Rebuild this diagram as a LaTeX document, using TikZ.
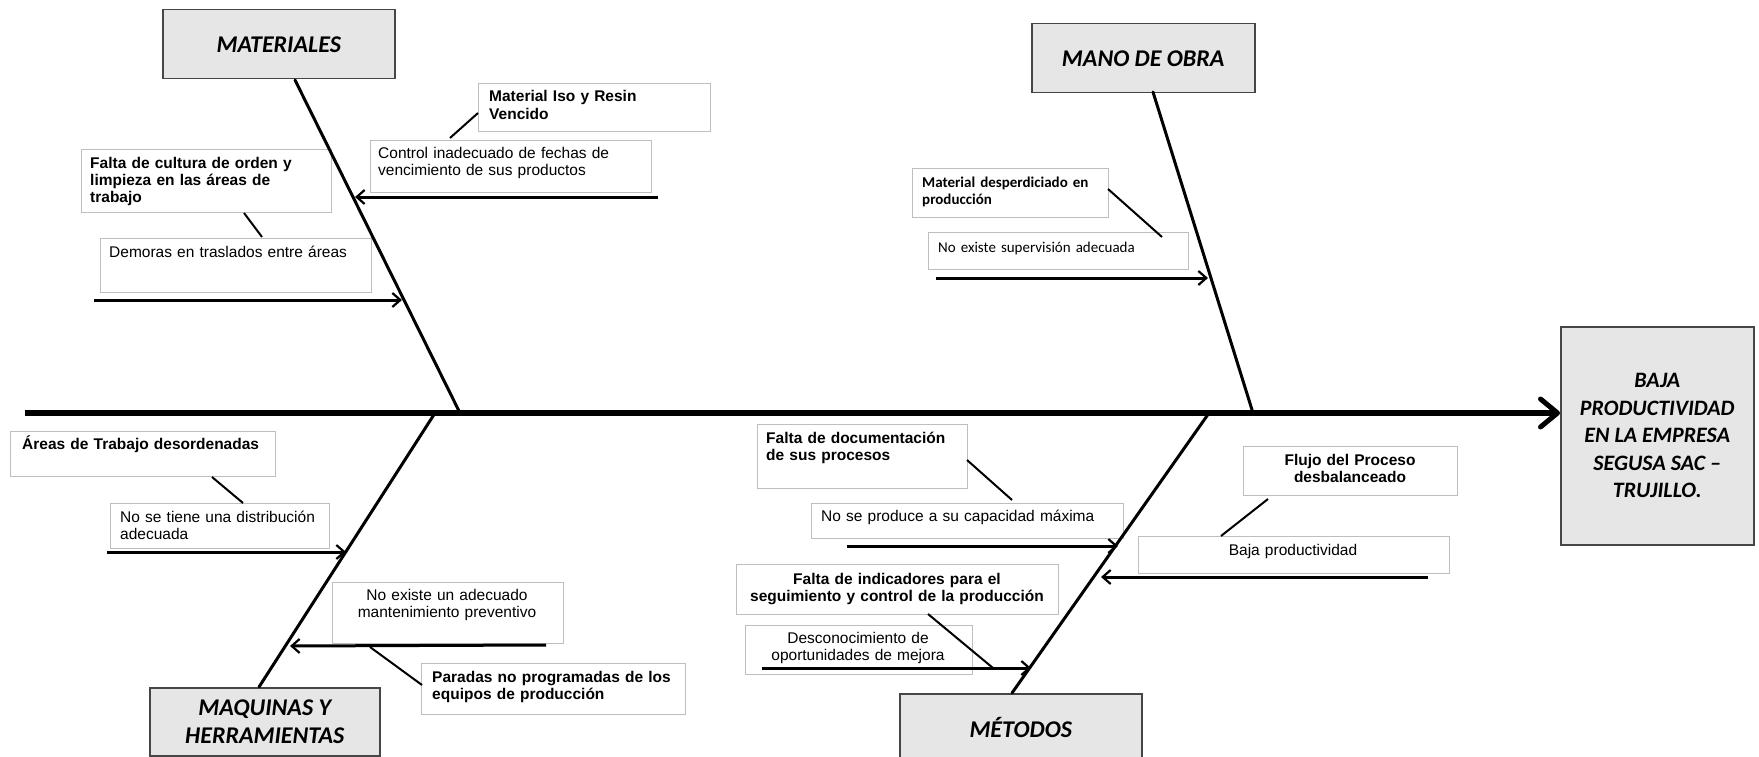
\documentclass[tikz,border=0pt]{standalone}
\usepackage{fontspec}
\setmainfont{Liberation Sans}
\newfontfamily\calfont{Carlito}
\usetikzlibrary{arrows.meta}
\definecolor{boxgray}{RGB}{230,230,230}
\definecolor{lightedge}{RGB}{190,190,190}
\definecolor{darkedge}{RGB}{70,70,70}
\tikzset{
  mainbox/.style={draw=darkedge, line width=1.5pt, fill=boxgray, inner sep=0, anchor=north west, align=center,
    font=\calfont\bfseries\itshape\fontsize{24}{27.5}\selectfont},
  effbox/.style={mainbox, font=\calfont\bfseries\itshape\fontsize{22}{27.5}\selectfont},
  subbox/.style={draw=lightedge, line width=1.2pt, fill=white, inner sep=0, anchor=north west},
  ltxt/.style={inner sep=0, anchor=base west, text width=400pt, align=left, font=\fontsize{15.5}{17.3}\selectfont},
  lbtxt/.style={ltxt, font=\bfseries\fontsize{15.5}{17.3}\selectfont},
  ctxt/.style={inner sep=0, anchor=base, align=center, font=\fontsize{15.5}{17.3}\selectfont},
  cbtxt/.style={ctxt, font=\bfseries\fontsize{15.5}{17.3}\selectfont},
  bone/.style={line width=3pt, line cap=round},
  spine/.style={line width=6pt, -{Straight Barb[length=17pt,width=28pt,line width=5pt,round]}},
  causearrow/.style={line width=3pt, -{Straight Barb[length=8pt,width=14pt,line width=2.2pt]}},
  link/.style={line width=2pt}
}
\begin{document}
\begin{tikzpicture}[x=1pt,y=-1pt]
\useasboundingbox (0,0) rectangle (1759,757);
\fill[white] (0,0) rectangle (1759,757);

% main category boxes
\node[mainbox, minimum width=232pt, minimum height=69pt] (mat) at (162,9) {MATERIALES};
\node[mainbox, minimum width=223pt, minimum height=69pt] (mano) at (1031,23) {MANO DE OBRA};
\node[mainbox, minimum width=230pt, minimum height=68pt] (maq) at (149,687) {MAQUINAS Y\\HERRAMIENTAS};
\node[mainbox, minimum width=242pt, minimum height=68pt] (met) at (899,693) {MÉTODOS};
\node[effbox, minimum width=193pt, minimum height=218pt] (eff) at (1560,326) {BAJA\\PRODUCTIVIDAD\\EN LA EMPRESA\\SEGUSA SAC –\\TRUJILLO.};

% sub boxes
\node[subbox, minimum width=232pt, minimum height=48pt] (b1) at (478,83) {};
\node[subbox, minimum width=281pt, minimum height=52pt] (b2) at (370,140) {};
\node[subbox, minimum width=250pt, minimum height=63pt] (b3) at (81,149) {};
\node[subbox, minimum width=271pt, minimum height=54pt] (b4) at (100,238) {};
\node[subbox, minimum width=196pt, minimum height=49pt] (b5) at (912,168) {};
\node[subbox, minimum width=260pt, minimum height=37pt] (b6) at (928,232) {};
\node[subbox, minimum width=265pt, minimum height=45pt] (b7) at (10,431) {};
\node[subbox, minimum width=219pt, minimum height=45pt] (b8) at (110,503) {};
\node[subbox, minimum width=231pt, minimum height=61pt] (b9) at (332,582) {};
\node[subbox, minimum width=264pt, minimum height=51pt] (b10) at (421,663) {};
\node[subbox, minimum width=210pt, minimum height=64pt] (b11) at (757,424) {};
\node[subbox, minimum width=312pt, minimum height=35pt] (b12) at (811,503) {};
\node[subbox, minimum width=214pt, minimum height=49pt] (b13) at (1243,446) {};
\node[subbox, minimum width=311pt, minimum height=37pt] (b14) at (1138,536) {};
\node[subbox, minimum width=322pt, minimum height=50pt] (b15) at (736,564) {};
\node[subbox, minimum width=227pt, minimum height=49pt] (b16) at (745,625) {};

% texts
\node[lbtxt] (t1) at (489,102) {Material Iso y Resin\\Vencido};
\node[ltxt] (t2) at (378,158) {Control inadecuado de fechas de\\vencimiento de sus productos};
\node[lbtxt] (t3) at (90,168) {Falta de cultura de orden y\\limpieza en las áreas de\\trabajo};
\node[ltxt] (t4) at (109,257) {Demoras en traslados entre áreas};
\node[lbtxt, font=\calfont\bfseries\fontsize{15}{17.3}\selectfont] (t5) at (922,187) {Material desperdiciado en\\producción};
\node[ltxt, font=\calfont\fontsize{15}{17.3}\selectfont] (t6) at (938,252) {No existe supervisión adecuada};
\node[lbtxt] (t7) at (22,449) {Áreas de Trabajo desordenadas};
\node[ltxt] (t8) at (120,522) {No se tiene una distribución\\adecuada};
\node[ctxt, text width=240pt] (t9) at (447,600) {No existe un adecuado\\mantenimiento preventivo};
\node[lbtxt] (t10) at (432,682) {Paradas no programadas de los\\equipos de producción};
\node[lbtxt] (t11) at (766,443) {Falta de documentación\\de sus procesos};
\node[ltxt] (t12) at (821,521) {No se produce a su capacidad máxima};
\node[cbtxt, text width=220pt] (t13) at (1350,465) {Flujo del Proceso\\desbalanceado};
\node[ctxt, text width=300pt] (t14) at (1293,555) {Baja productividad};
\node[cbtxt, text width=340pt] (t15) at (897,584) {Falta de indicadores para el\\seguimiento y control de la producción};
\node[ctxt, text width=230pt] (t16) at (858,643) {Desconocimiento de\\oportunidades de mejora};

% spine
\coordinate (sp0) at (25,413);
\draw[spine] (sp0) -- (eff.west |- sp0);

% bones
\coordinate (matT) at (295,80);   \coordinate (matB) at (460,413);
\coordinate (manoT) at (1153,92); \coordinate (manoB) at (1253,413);
\coordinate (maqT) at (259,687);  \coordinate (maqB) at (435,413);
\coordinate (metT) at (1012,693); \coordinate (metB) at (1209,413);
\draw[bone] (matT) -- (matB);
\draw[bone] (manoT) -- (manoB);
\draw[bone] (maqT) -- (maqB);
\draw[bone] (metT) -- (metB);

% cause arrows
\coordinate (a2s) at (658,197);  \coordinate (a2e) at (355,197);
\coordinate (a4s) at (94,300);   \coordinate (a4e) at (402,300);
\coordinate (a6s) at (936,278);  \coordinate (a6e) at (1208,278);
\coordinate (a8s) at (107,552);  \coordinate (a8e) at (346,552);
\coordinate (a9s) at (546,645);  \coordinate (a9e) at (290,646);
\coordinate (a12s) at (847,546); \coordinate (a12e) at (1118,546);
\coordinate (a14s) at (1428,577); \coordinate (a14e) at (1101,577);
\coordinate (a16s) at (762,668); \coordinate (a16e) at (1031,668);
\draw[causearrow] (a2s) -- (a2e);
\draw[causearrow] (a4s) -- (a4e);
\draw[causearrow] (a6s) -- (a6e);
\draw[causearrow] (a8s) -- (a8e);
\draw[causearrow] (a9s) -- (a9e);
\draw[causearrow] (a12s) -- (a12e);
\draw[causearrow] (a14s) -- (a14e);
\draw[causearrow] (a16s) -- (a16e);

% links from sub-cause boxes
\coordinate (c1s) at (478,113);  \coordinate (c1e) at (450,138);
\coordinate (c3s) at (244,213);  \coordinate (c3e) at (262,237);
\coordinate (c5s) at (1108,189); \coordinate (c5e) at (1162,237);
\coordinate (c7s) at (212,477);  \coordinate (c7e) at (243,503);
\coordinate (c10s) at (370,647); \coordinate (c10e) at (422,685);
\coordinate (c11s) at (967,460); \coordinate (c11e) at (1012,500);
\coordinate (c13s) at (1268,499); \coordinate (c13e) at (1221,536);
\coordinate (c15s) at (928,614); \coordinate (c15e) at (993,668);
\draw[link] (c1s) -- (c1e);
\draw[link] (c3s) -- (c3e);
\draw[link] (c5s) -- (c5e);
\draw[link] (c7s) -- (c7e);
\draw[link] (c10s) -- (c10e);
\draw[link] (c11s) -- (c11e);
\draw[link] (c13s) -- (c13e);
\draw[link] (c15s) -- (c15e);
\end{tikzpicture}
\end{document}
